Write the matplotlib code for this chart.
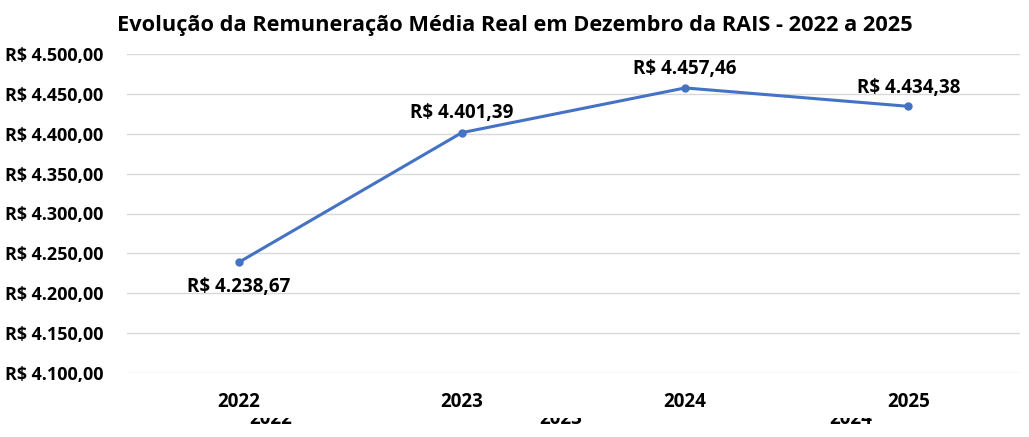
import matplotlib
matplotlib.use("Agg")
import matplotlib.pyplot as plt
from matplotlib.patches import Rectangle

years = ["2022", "2023", "2024", "2025"]
values = [4238.67, 4401.39, 4457.46, 4434.38]
value_labels = ["R$ 4.238,67", "R$ 4.401,39", "R$ 4.457,46", "R$ 4.434,38"]
yticks = [4100, 4150, 4200, 4250, 4300, 4350, 4400, 4450, 4500]
ytick_labels = ["R$ 4.100,00", "R$ 4.150,00", "R$ 4.200,00", "R$ 4.250,00", "R$ 4.300,00",
                "R$ 4.350,00", "R$ 4.400,00", "R$ 4.450,00", "R$ 4.500,00"]
ghost_labels = ["2022", "2023", "2024"]
title = "Evolução da Remuneração Média Real em Dezembro da RAIS - 2022 a 2025"

plt.rcParams['font.family'] = ['Open Sans', 'DejaVu Sans']
W, H = 1029, 437
fig = plt.figure(figsize=(W / 100, H / 100), dpi=100)
ax = fig.add_axes([127 / W, 64 / H, (1020 - 127) / W, (373 - 54) / H])

x = list(range(len(years)))
color = "#4472C4"
ax.plot(x, values, color=color, lw=2.2, marker="o", ms=5, zorder=3)

ax.set_xlim(-0.5, len(years) - 0.5)
ax.set_ylim(4100, 4500)
ax.set_yticks(yticks)
ax.set_yticklabels(ytick_labels, fontsize=13, fontweight="bold")
ax.set_xticks(x)
ax.set_xticklabels(years, fontsize=13.5, fontweight="bold")
ax.tick_params(axis="y", length=0, pad=17)
ax.tick_params(axis="x", length=0, pad=14)
ax.grid(axis="y", color="#D9D9D9", lw=1)
ax.set_axisbelow(True)
for s in ax.spines.values():
    s.set_visible(False)

offsets = [(0, -17.5), (0, 14.5), (0, 13.5), (0, 13.5)]
for xi, v, lab, off in zip(x, values, value_labels, offsets):
    ax.annotate(lab, (xi, v), xytext=off, textcoords="offset points",
                ha="center", va="center", fontsize=13.5, fontweight="bold")

fig.text(515 / W, 1 - 25 / H, title, ha="center", va="center",
         fontsize=15.7, fontweight="bold")

for gx, lab in zip([271, 561, 851], ghost_labels):
    fig.text(gx / W, 1 - 424 / H, lab, ha="center", va="baseline",
             fontsize=13.5, fontweight="bold", zorder=5)
fig.add_artist(Rectangle((0, 1 - 417.5 / H), 1, 8 / H, transform=fig.transFigure,
                         facecolor="white", edgecolor="none", zorder=6))

fig.savefig("out.png", dpi=100)
